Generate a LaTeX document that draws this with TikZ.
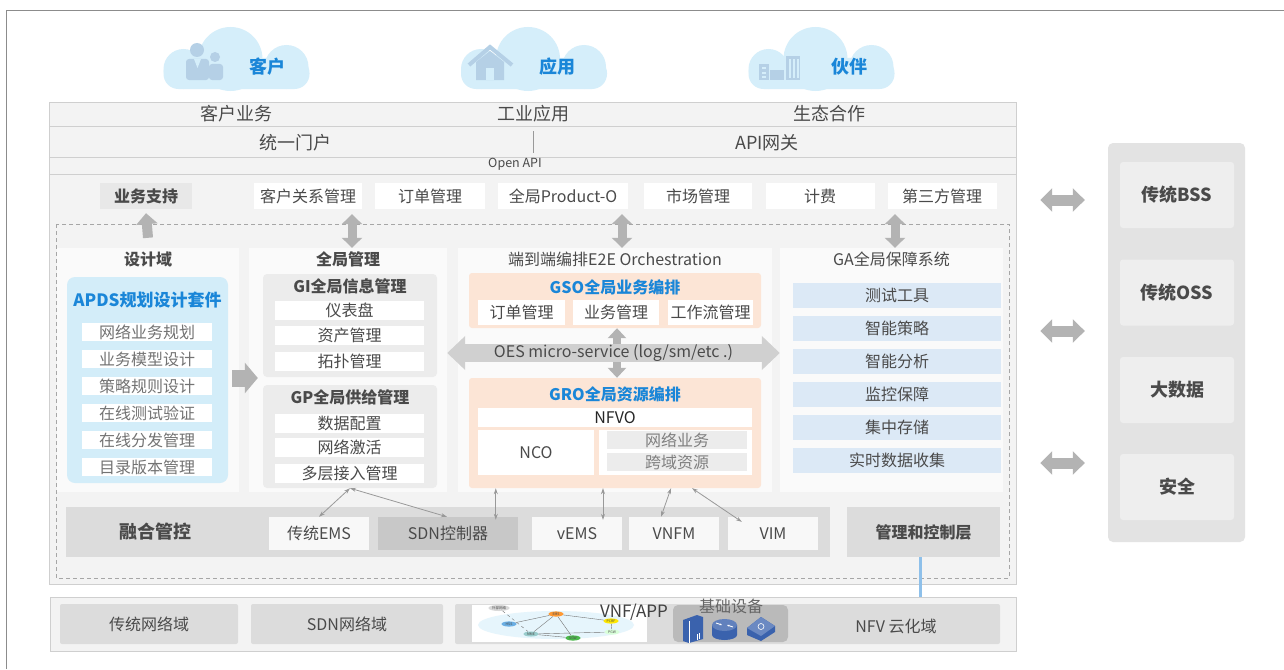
\documentclass[tikz,border=0pt]{standalone}
\usepackage{fontspec}
\setmainfont{Noto Sans CJK SC}
\usetikzlibrary{positioning,arrows.meta,shapes.geometric}

\newcommand{\fsmid}{\fontsize{16}{18}\selectfont}
\newcommand{\fsbig}{\fontsize{18}{20}\selectfont}
\newcommand{\fstiny}{\fontsize{3.5}{4}\selectfont}

\begin{document}
\begin{tikzpicture}[x=1pt,y=-1pt]
    \definecolor{colframe}{HTML}{8C8C8C}
    \definecolor{colpanel}{HTML}{F3F3F3}
    \definecolor{colline}{HTML}{CFCFCF}
    \definecolor{colcol}{HTML}{FAFAFA}
    \definecolor{colbiz}{HTML}{E8E8E8}
    \definecolor{colgray}{HTML}{DCDCDC}
    \definecolor{colsdn}{HTML}{C8C8C8}
    \definecolor{colsub}{HTML}{ECECEC}
    \definecolor{colside}{HTML}{E3E3E3}
    \definecolor{colsidecell}{HTML}{EEEEEE}
    \definecolor{colarrow}{HTML}{B3B3B3}
    \definecolor{coltext}{HTML}{4A4A4A}
    \definecolor{colblue}{HTML}{1A86D8}
    \definecolor{colcloud}{HTML}{D5EEFA}
    \definecolor{colicon}{HTML}{B5D0E6}
    \definecolor{colapds}{HTML}{D3EDF9}
    \definecolor{colga}{HTML}{DCE9F6}
    \definecolor{colpeach}{HTML}{FCE5D6}
    \definecolor{coldev}{HTML}{3A62AD}
    \definecolor{collink}{HTML}{8EC0EA}

    \tikzstyle{lbl}=[inner sep=0pt,text=coltext,font=\fsmid]
    \tikzstyle{big}=[lbl,font=\fsbig]
    \tikzstyle{hd}=[lbl,font=\fsmid\bfseries]
    \tikzstyle{bluehd}=[hd,text=colblue]
    \tikzstyle{cell}=[lbl,rectangle,minimum height=18pt]
    \tikzstyle{wcell}=[cell,fill=white]
    \tikzstyle{topcell}=[wcell,minimum height=26pt]
    \tikzstyle{column}=[fill=colcol,inner sep=0pt,minimum height=244pt]
    \tikzstyle{subbox}=[fill=colsub,rounded corners=4pt,inner sep=0pt,minimum width=174pt,minimum height=103pt]
    \tikzstyle{peachbox}=[fill=colpeach,rounded corners=3pt,inner sep=0pt,minimum width=292pt]
    \tikzstyle{ctrl}=[lbl,fill=white!60!colsidecell,minimum height=33pt,minimum width=90pt]
    \tikzstyle{netbox}=[lbl,fill=colgray,rounded corners=2pt,minimum height=40pt]
    \tikzstyle{sidecell}=[big,font=\fsbig\bfseries,fill=colsidecell,rounded corners=3pt,minimum width=114pt,minimum height=66pt]
    \tikzstyle{ne}=[ellipse,inner sep=0.5pt,minimum width=15pt,minimum height=5pt,font=\fstiny,text=black!70]
    \tikzstyle{uparrow}=[colarrow,line width=10pt,-{Triangle[width=21pt,length=11pt]}]
    \tikzstyle{vdarrow}=[colarrow,line width=9pt,{Triangle[width=20pt,length=10pt]}-{Triangle[width=20pt,length=10pt]}]
    \tikzstyle{rarrow}=[colarrow,line width=17pt,-{Triangle[width=30pt,length=13pt]}]
    \tikzstyle{oesarrow}=[colsub!88!black,line width=18pt,{Triangle[width=33pt,length=18pt]}-{Triangle[width=33pt,length=18pt]}]
    \tikzstyle{sidearrow}=[colarrow,line width=11pt,{Triangle[width=23pt,length=12pt]}-{Triangle[width=23pt,length=12pt]}]
    \tikzstyle{link}=[draw=black!40,line width=0.8pt,{Stealth[length=6pt,width=4pt]}-{Stealth[length=6pt,width=4pt]}]

    \useasboundingbox (0,0) rectangle (1284,669);
    \fill[white] (0,0) rectangle (1284,669);
    % frame
    \draw[colframe] (6,669) -- (6,10) -- (1284,10);

    % clouds
    \foreach \cx in {236.5,534,821.5} {
        \fill[colcloud] (\cx-53,69) circle[radius=20pt];
        \fill[colcloud] (\cx-6,59) circle[radius=32pt];
        \fill[colcloud] (\cx+50,67) circle[radius=22pt];
        \fill[colcloud,rounded corners=15pt] (\cx-73,58) rectangle (\cx+73,89);
    }
    % people
    \fill[colicon] (215,57) circle[radius=5pt];
    \fill[colicon,rounded corners=3pt] (209,64) rectangle (223,80);
    \fill[colicon] (197,50) circle[radius=7pt];
    \fill[colicon,rounded corners=3pt] (186,59) rectangle (209,80);
    \fill[colcloud] (194,59) -- (197.5,68) -- (201,59) -- cycle;
    % house
    \draw[colicon,line width=4pt] (469,65) -- (490,47) -- (512,65);
    \fill[colicon] (476,62) -- (490,51) -- (504,62) -- (504,80) -- (476,80) -- cycle;
    \fill[colcloud] (486,68) rectangle (494,80);
    % buildings
    \fill[colicon] (759,64) rectangle (769,80);
    \fill[colicon] (770,70) rectangle (784,80);
    \fill[colicon] (786,56) rectangle (800,80);
    \foreach \wy in {67,72,76} \fill[colcloud] (762,\wy) rectangle (766,\wy+2);
    \foreach \wx in {789,793,797} \fill[colcloud] (\wx,59) rectangle (\wx+1.5,78);
    \node[bluehd,font=\fsbig\bfseries] (cust) at (267,67) {客户};
    \node[bluehd,font=\fsbig\bfseries] (app) at (557,67) {应用};
    \node[bluehd,font=\fsbig\bfseries] (partner) at (849,67) {伙伴};

    % main panel
    \node[draw=colline,fill=colpanel,minimum width=967pt,minimum height=482pt,inner sep=0pt] (main) at (532.5,343) {};
    \foreach \ry in {126,157,174} \draw[colline] (main.west |- 0,\ry) -- (main.east |- 0,\ry);
    \node[big] (rowcust) at (236,114) {客户业务};
    \node[big] (rowind) at (533,114) {工业应用};
    \node[big] (roweco) at (829,114) {生态合作};
    \node[big] (portal) at (295,143) {统一门户};
    \node[big] (apigw) at (767,143) {API网关};
    \draw[black!40] (533,131) -- (533,153);
    \node[lbl,font=\fontsize{12.5}{14}\selectfont] (openapi) at (515,164) {Open API};

    % business support row
    \node[topcell,fill=colbiz,font=\fsmid\bfseries,minimum width=92pt] (biz) at (146,196) {业务支持};
    \node[topcell,minimum width=108pt] (crm) at (308,196) {客户关系管理};
    \node[topcell,minimum width=110pt] (order) at (430,196) {订单管理};
    \node[topcell,minimum width=130pt] (product) at (563,196) {全局Product-O};
    \node[topcell,minimum width=108pt] (market) at (698,196) {市场管理};
    \node[topcell,minimum width=109pt] (billing) at (820,196) {计费};
    \node[topcell,minimum width=109pt] (third) at (942,196) {第三方管理};

    \draw[black!35,dash pattern=on 4pt off 3pt] (56,224) rectangle (1009,578);

    % columns
    \node[column,minimum width=182pt] (dsgcol) at (148,370) {};
    \node[column,minimum width=198pt] (mgmtcol) at (348,370) {};
    \node[column,minimum width=314pt] (e2ecol) at (615,370) {};
    \node[column,minimum width=223pt] (gacol) at (891.5,370) {};
    \node[hd] (dsgt) at ([yshift=-12pt]dsgcol.north) {设计域};
    \node[hd] (mgmtt) at ([yshift=-12pt]mgmtcol.north) {全局管理};
    \node[lbl] (e2et) at ([yshift=-12pt]e2ecol.north) {端到端编排E2E Orchestration};
    \node[lbl] (gat) at ([yshift=-12pt]gacol.north) {GA全局保障系统};

    \draw[uparrow] ([yshift=10pt]dsgcol.north) -- ([yshift=-4pt]biz.south);
    \draw[vdarrow] ([xshift=4pt]mgmtcol.north) -- ([xshift=4pt,yshift=-5pt]mgmtcol.north |- crm.south);
    \draw[vdarrow] ([xshift=7pt]e2ecol.north) -- ([xshift=7pt,yshift=-5pt]e2ecol.north |- product.south);
    \draw[vdarrow] ([xshift=3.5pt]gacol.north) -- ([xshift=3.5pt,yshift=-5pt]gacol.north |- third.south);

    % design domain
    \node[fill=colapds,rounded corners=8pt,minimum width=161pt,minimum height=206pt,inner sep=0pt] (apds) at (147.5,380) {};
    \node[bluehd,font=\fontsize{17}{19}\selectfont\bfseries] (apdst) at (147.5,300) {APDS规划设计套件};
    \foreach \t [count=\i] in {网络业务规划,业务模型设计,策略规则设计,在线测试验证,在线分发管理,目录版本管理}
        \node[wcell,text=black!55,minimum width=130pt] (apds\i) at (147,305+27*\i) {\t};
    \draw[rarrow] ([shift={(-7pt,-8pt)}]dsgcol.east) -- ([shift={(9pt,-8pt)}]mgmtcol.west);

    % global management
    \node[subbox] (gi) at (350,325.5) {};
    \node[hd] (git) at (350,286) {GI全局信息管理};
    \foreach \t/\y [count=\i] in {仪表盘/310,资产管理/335,拓扑管理/361}
        \node[wcell,minimum width=149pt,minimum height=19pt] (gi\i) at (349.5,\y) {\t};
    \node[subbox] (gp) at (350,436.5) {};
    \node[hd] (gpt) at (350,397) {GP全局供给管理};
    \foreach \t/\y [count=\i] in {数据配置/423,网络激活/447.5,多层接入管理/473.5}
        \node[wcell,minimum width=149pt,minimum height=19pt] (gp\i) at (349.5,\y) {\t};

    % e2e orchestration
    \node[peachbox,minimum height=55pt] (gso) at (615,300.5) {};
    \node[bluehd] (gsot) at (615,287) {GSO全局业务编排};
    \node[wcell,minimum width=87pt,minimum height=25pt] (gso1) at (521.5,312.5) {订单管理};
    \node[wcell,minimum width=86pt,minimum height=25pt] (gso2) at (616,312.5) {业务管理};
    \node[wcell,minimum width=85pt,minimum height=25pt] (gso3) at (710.5,312.5) {工作流管理};
    \node[peachbox,minimum height=110pt] (gro) at (615,433) {};
    \node[bluehd] (grot) at (615,394) {GRO全局资源编排};
    \node[wcell,text=black!85,minimum width=274pt,minimum height=19pt] (nfvo) at (615,417.5) {NFVO};
    \node[wcell,minimum width=116pt,minimum height=45pt] (nco) at (536,452.5) {NCO};
    \node[fill=white,inner sep=0pt,minimum width=153pt,minimum height=45pt] (nsr) at (675.5,452.5) {};
    \node[cell,fill=colsub,text=black!50,minimum width=140pt] (ns) at (677,440) {网络业务};
    \node[cell,fill=colsub,text=black!50,minimum width=140pt] (xr) at (677,462) {跨域资源};
    \draw[colarrow,line width=8pt,{Triangle[width=18pt,length=10pt]}-{Triangle[width=18pt,length=10pt]}] ([xshift=2pt]gso.south) -- ([xshift=2pt]gro.north);
    \draw[oesarrow] (mgmtcol.east |- 0,353) -- node[lbl] (oes) {OES micro-service (log/sm/etc .)} (gacol.west |- 0,353);

    % assurance
    \foreach \t [count=\i] in {测试工具,智能策略,智能分析,监控保障,集中存储,实时数据收集}
        \node[cell,fill=colga,minimum width=208pt,minimum height=25pt] (ga\i) at (897,262.5+33*\i) {\t};

    % control layer
    \node[fill=colgray,inner sep=0pt,minimum width=764pt,minimum height=50pt] (fuse) at (448,532) {};
    \node[big,font=\fsbig\bfseries] (fuset) at (155,532) {融合管控};
    \node[ctrl,minimum width=100pt] (ems) at (319,533.5) {传统EMS};
    \node[ctrl,fill=colsdn,minimum width=140pt] (sdn) at (448,533.5) {SDN控制器};
    \node[ctrl] (vems) at (577,533.5) {vEMS};
    \node[ctrl] (vnfm) at (674,533.5) {VNFM};
    \node[ctrl] (vim) at (773,533.5) {VIM};
    \node[big,font=\fsmid\bfseries,fill=colgray,minimum width=153pt,minimum height=50pt] (mcl) at (923.5,532) {管理和控制层};
    \draw[link] (gp.south) -- (ems.north);
    \draw[link] (gp.south) -- ([xshift=-1pt]sdn.north);
    \draw[link] ([xshift=27pt]gro.south west) -- ([xshift=27pt,yshift=-3pt]gro.south west |- sdn.north);
    \draw[link] ([xshift=-12pt]gro.south) -- ([xshift=-12pt,yshift=-3pt]gro.south |- vems.north);
    \draw[link] ([xshift=56pt]gro.south) -- ([xshift=-13pt]vnfm.north);
    \draw[link] ([xshift=77pt]gro.south) -- ([shift={(14pt,-5pt)}]vim.north west);

    % side systems
    \node[fill=colside,rounded corners=5pt,inner sep=0pt,minimum width=137pt,minimum height=399pt] (side) at (1176.5,342.5) {};
    \foreach \t/\y [count=\i] in {传统BSS/195,传统OSS/292.5,大数据/390,安全/487}
        \node[sidecell] (side\i) at (1177,\y) {\t};
    \foreach \y in {200,331,463}
        \draw[sidearrow] ([xshift=24pt]main.east |- 0,\y) -- ([xshift=-23pt]side.west |- 0,\y);

    % network domains
    \node[draw=colline,fill=colpanel,inner sep=0pt,minimum width=966pt,minimum height=54pt] (bot) at (533,624) {};
    \draw[collink,line width=3pt] ([xshift=-3pt]mcl.south) -- ([xshift=-3pt]mcl.south |- bot.north);
    \node[netbox,minimum width=178pt] (legacy) at (149,624) {传统网络域};
    \node[netbox,minimum width=192pt] (sdnnet) at (347,624) {SDN网络域};
    \node[netbox,minimum width=545pt] (nfv) at (727.5,624) {};
    \node[lbl] (nfvt) at (896,626) {NFV 云化域};
    % vnf sketch
    \node[fill=white,inner sep=0pt,minimum width=175pt,minimum height=37pt] (vnfpic) at (559.5,623.5) {};
    \fill[colcloud!60] (556,625) ellipse[x radius=78pt,y radius=14pt];
    \node[ne,fill=black!15] (ext) at (499,608) {外部网络};
    \node[ne,fill=orange!80] (vems2) at (556,614) {EMS};
    \node[ne,fill=cyan!70!blue!60] (hss) at (509,624) {HSS};
    \node[ne,fill=teal!40] (mme) at (531,634) {MME};
    \node[ne,fill=green!60!black!70] (sgw) at (573,638) {SGW};
    \node[ne,fill=yellow!90!orange] (pcrf) at (611,621) {PCRF};
    \node[ne,fill=green!15] (pgw) at (612,632) {PGW};
    \begin{scope}[black!55,line width=0.4pt]
        \draw (hss) -- (vems2);
        \draw (vems2) -- (mme);
        \draw (vems2) -- (sgw);
        \draw (vems2) -- (pcrf);
        \draw (mme) -- (pgw);
        \draw (pcrf) -- (pgw);
        \draw (mme) -- (sgw);
        \draw[dashed] (ext) -- (mme);
    \end{scope}
    \node[lbl,text=black!75,font=\fontsize{17}{19}\selectfont] (vnfapp) at (634,612) {VNF/APP};
    % base devices
    \node[fill=black!27,rounded corners=5pt,inner sep=0pt,minimum width=115pt,minimum height=37pt] (infra) at (730.5,623.5) {};
    \node[lbl,text=black!60] (infrat) at (731,606) {基础设备};
    \fill[coldev] (683,620) -- (697,615) -- (703,617) -- (703,639) -- (689,643) -- (683,641) -- cycle;
    \draw[white,line width=0.6pt] (689,621) -- (689,643) (697,634) -- (697,640) (699,633) -- (699,639);
    \fill[coldev] (712,625) -- (712,635) arc[start angle=180,end angle=360,x radius=12.5pt,y radius=5pt] -- (737,625) -- cycle;
    \fill[coldev!80!white] (724.5,625) ellipse[x radius=12.5pt,y radius=6pt];
    \draw[white,line width=0.8pt,-{Stealth[length=2.5pt]}] (716,623) -- (722,625);
    \draw[white,line width=0.8pt,-{Stealth[length=2.5pt]}] (733,627) -- (727,625);
    \fill[coldev] (747,628) -- (761,617) -- (775,626) -- (775,632) -- (761,641) -- (747,635) -- cycle;
    \fill[coldev!75!white] (747,628) -- (761,617) -- (775,626) -- (761,636) -- cycle;
    \draw[white,line width=0.6pt] (761,626.5) circle[radius=3pt];
\end{tikzpicture}
\end{document}
